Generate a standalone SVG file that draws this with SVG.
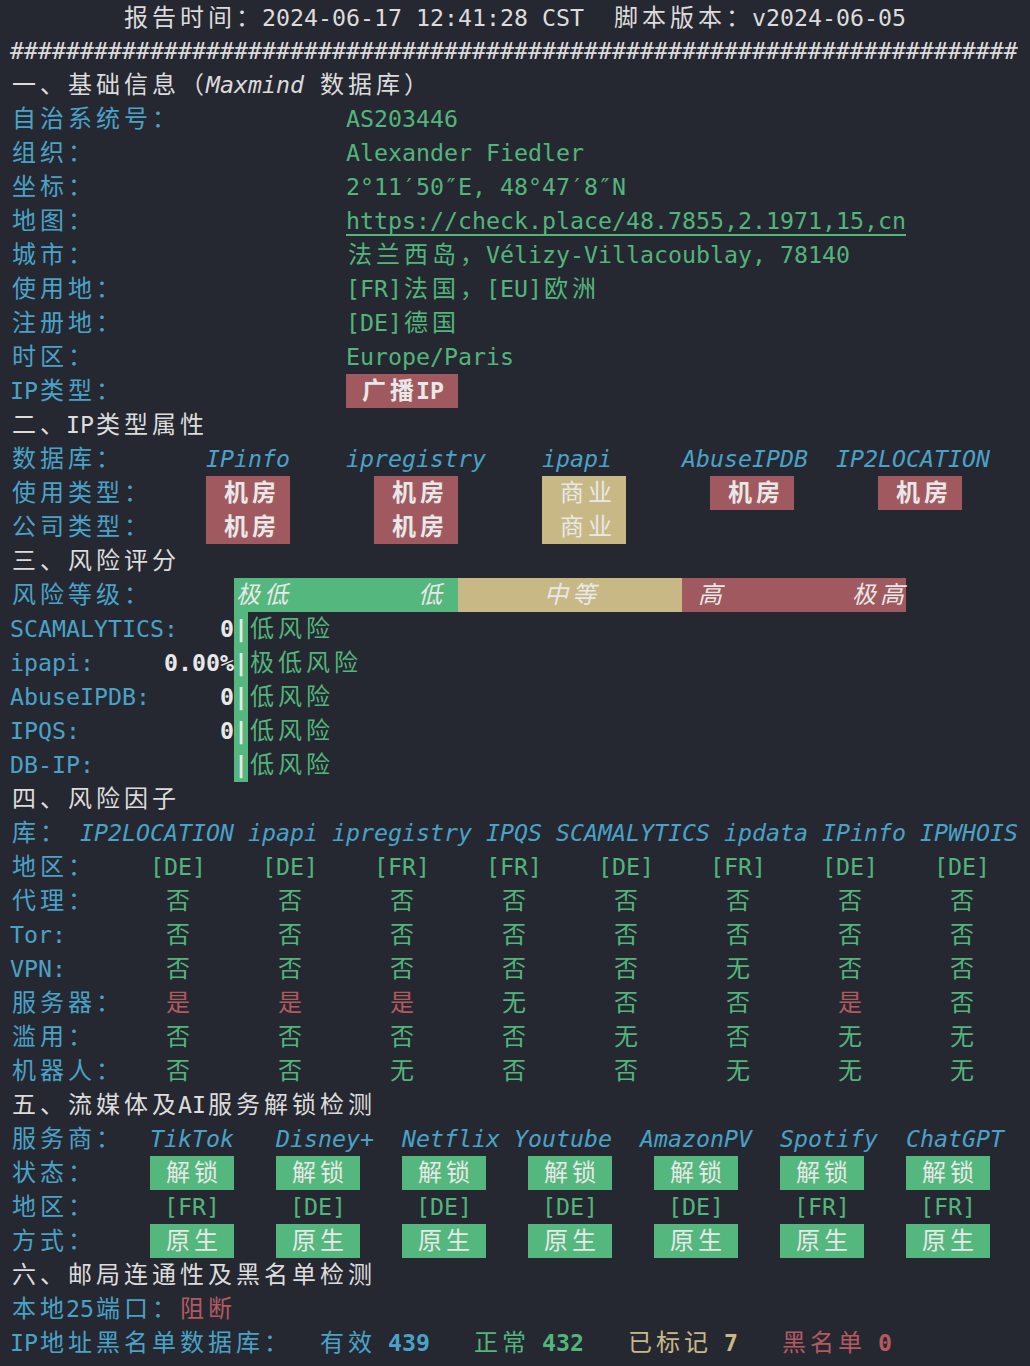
<svg xmlns="http://www.w3.org/2000/svg" width="1030" height="1366" viewBox="0 0 1030 1366">
<style>
.m{font-family:"DejaVu Sans Mono","Liberation Mono",monospace;font-size:23.25px}
.c{font-family:"Noto Sans CJK SC","Noto Sans CJK JP",sans-serif;font-size:24px;letter-spacing:4px}
.i{font-style:italic}
.b{font-weight:bold}
.w{fill:#dcdcdc}
.cy{fill:#4aa2c7}
.g{fill:#52b57b}
.r{fill:#b35a60}
.t{fill:#c8b987}
.bw{fill:#e8e8e8}
.rb{fill:#a0595f}
.tb{fill:#c7b886}
.gb{fill:#54b77d}
</style>
<rect x="0" y="0" width="1030" height="1366" fill="#262831"/>

<g id="header">
<text class="c w" x="124" y="26">报告时间：</text>
<text class="m w" x="262" y="26">2024-06-17 12:41:28 CST</text>
<text class="c w" x="614" y="26">脚本版本：</text>
<text class="m w" x="752" y="26">v2024-06-05</text>
<text class="m w" x="10" y="59">########################################################################</text>
</g>

<g id="sec1">
<text class="c w" x="12" y="93">一、基础信息（</text>
<text class="m w i" x="206" y="93">Maxmind</text>
<text class="c w" x="320" y="93">数据库）</text>
<text class="c cy" x="12" y="127">自治系统号：</text>
<text class="m g" x="346" y="127">AS203446</text>
<text class="c cy" x="12" y="161">组织：</text>
<text class="m g" x="346" y="161">Alexander Fiedler</text>
<text class="c cy" x="12" y="195">坐标：</text>
<text class="m g" x="346" y="195">2°11′50″E, 48°47′8″N</text>
<text class="c cy" x="12" y="229">地图：</text>
<text class="m g" x="346" y="229">https://check.place/48.7855,2.1971,15,cn</text>
<rect x="346" y="234" width="560" height="2" fill="#52b57b"/>
<text class="c cy" x="12" y="263">城市：</text>
<text class="c g" x="348" y="263">法兰西岛，</text>
<text class="m g" x="486" y="263">Vélizy-Villacoublay, 78140</text>
<text class="c cy" x="12" y="297">使用地：</text>
<text class="m g" x="346" y="297">[FR]</text>
<text class="c g" x="404" y="297">法国，</text>
<text class="m g" x="486" y="297">[EU]</text>
<text class="c g" x="544" y="297">欧洲</text>
<text class="c cy" x="12" y="331">注册地：</text>
<text class="m g" x="346" y="331">[DE]</text>
<text class="c g" x="404" y="331">德国</text>
<text class="c cy" x="12" y="365">时区：</text>
<text class="m g" x="346" y="365">Europe/Paris</text>
<text class="m cy" x="10" y="399">IP</text>
<text class="c cy" x="40" y="399">类型：</text>
<rect class="rb" x="346" y="374" width="112" height="34"/>
<text class="c bw b" x="362" y="399">广播</text>
<text class="m bw b" x="416" y="399">IP</text>
</g>

<g id="sec2">
<text class="c w" x="12" y="433">二、</text>
<text class="m w" x="66" y="433">IP</text>
<text class="c w" x="96" y="433">类型属性</text>
<text class="c cy" x="12" y="467">数据库：</text>
<text class="m cy i" x="206" y="467">IPinfo</text>
<text class="m cy i" x="346" y="467">ipregistry</text>
<text class="m cy i" x="542" y="467">ipapi</text>
<text class="m cy i" x="682" y="467">AbuseIPDB</text>
<text class="m cy i" x="836" y="467">IP2LOCATION</text>
<text class="c cy" x="12" y="501">使用类型：</text>
<rect class="rb" x="206" y="476" width="84" height="34"/>
<rect class="rb" x="374" y="476" width="84" height="34"/>
<rect class="tb" x="542" y="476" width="84" height="34"/>
<rect class="rb" x="710" y="476" width="84" height="34"/>
<rect class="rb" x="878" y="476" width="84" height="34"/>
<text class="c bw b" x="224" y="501">机房</text>
<text class="c bw b" x="392" y="501">机房</text>
<text class="c bw" x="560" y="501">商业</text>
<text class="c bw b" x="728" y="501">机房</text>
<text class="c bw b" x="896" y="501">机房</text>
<text class="c cy" x="12" y="535">公司类型：</text>
<rect class="rb" x="206" y="510" width="84" height="34"/>
<rect class="rb" x="374" y="510" width="84" height="34"/>
<rect class="tb" x="542" y="510" width="84" height="34"/>
<text class="c bw b" x="224" y="535">机房</text>
<text class="c bw b" x="392" y="535">机房</text>
<text class="c bw" x="560" y="535">商业</text>
</g>

<g id="sec3">
<text class="c w" x="12" y="569">三、风险评分</text>
<text class="c cy" x="12" y="603">风险等级：</text>
<rect class="gb" x="234" y="578" width="224" height="34"/>
<rect class="tb" x="458" y="578" width="224" height="34"/>
<rect class="rb" x="682" y="578" width="224" height="34"/>
<text class="c bw i" x="236" y="603">极低</text>
<text class="c bw i" x="418" y="603">低</text>
<text class="c bw i" x="544" y="603">中等</text>
<text class="c bw i" x="698" y="603">高</text>
<text class="c bw i" x="852" y="603">极高</text>
<rect class="gb" x="234" y="612" width="14" height="170"/>
<text class="m cy" x="10" y="637">SCAMALYTICS:</text>
<text class="m cy" x="10" y="671">ipapi:</text>
<text class="m cy" x="10" y="705">AbuseIPDB:</text>
<text class="m cy" x="10" y="739">IPQS:</text>
<text class="m cy" x="10" y="773">DB-IP:</text>
<text class="m bw b" x="220" y="637">0</text>
<text class="m bw b" x="164" y="671">0.00%</text>
<text class="m bw b" x="220" y="705">0</text>
<text class="m bw b" x="220" y="739">0</text>
<text class="m bw b" x="234" y="637">|</text>
<text class="m bw b" x="234" y="671">|</text>
<text class="m bw b" x="234" y="705">|</text>
<text class="m bw b" x="234" y="739">|</text>
<text class="m bw b" x="234" y="773">|</text>
<text class="c g" x="250" y="637">低风险</text>
<text class="c g" x="250" y="671">极低风险</text>
<text class="c g" x="250" y="705">低风险</text>
<text class="c g" x="250" y="739">低风险</text>
<text class="c g" x="250" y="773">低风险</text>
</g>

<g id="sec4">
<text class="c w" x="12" y="807">四、风险因子</text>
<text class="c cy" x="12" y="841">库：</text>
<text class="m cy i" x="80" y="841">IP2LOCATION</text>
<text class="m cy i" x="248" y="841">ipapi</text>
<text class="m cy i" x="332" y="841">ipregistry</text>
<text class="m cy i" x="486" y="841">IPQS</text>
<text class="m cy i" x="556" y="841">SCAMALYTICS</text>
<text class="m cy i" x="724" y="841">ipdata</text>
<text class="m cy i" x="822" y="841">IPinfo</text>
<text class="m cy i" x="920" y="841">IPWHOIS</text>
<text class="c cy" x="12" y="875">地区：</text>
<text class="m g" x="150" y="875">[DE]</text>
<text class="m g" x="262" y="875">[DE]</text>
<text class="m g" x="374" y="875">[FR]</text>
<text class="m g" x="486" y="875">[FR]</text>
<text class="m g" x="598" y="875">[DE]</text>
<text class="m g" x="710" y="875">[FR]</text>
<text class="m g" x="822" y="875">[DE]</text>
<text class="m g" x="934" y="875">[DE]</text>
<text class="c cy" x="12" y="909">代理：</text>
<text class="c g" y="909"><tspan x="166">否</tspan><tspan x="278">否</tspan><tspan x="390">否</tspan><tspan x="502">否</tspan><tspan x="614">否</tspan><tspan x="726">否</tspan><tspan x="838">否</tspan><tspan x="950">否</tspan></text>
<text class="m cy" x="10" y="943">Tor:</text>
<text class="c g" y="943"><tspan x="166">否</tspan><tspan x="278">否</tspan><tspan x="390">否</tspan><tspan x="502">否</tspan><tspan x="614">否</tspan><tspan x="726">否</tspan><tspan x="838">否</tspan><tspan x="950">否</tspan></text>
<text class="m cy" x="10" y="977">VPN:</text>
<text class="c g" y="977"><tspan x="166">否</tspan><tspan x="278">否</tspan><tspan x="390">否</tspan><tspan x="502">否</tspan><tspan x="614">否</tspan><tspan x="726">无</tspan><tspan x="838">否</tspan><tspan x="950">否</tspan></text>
<text class="c cy" x="12" y="1011">服务器：</text>
<text class="c r" y="1011"><tspan x="166">是</tspan><tspan x="278">是</tspan><tspan x="390">是</tspan><tspan x="838">是</tspan></text>
<text class="c g" y="1011"><tspan x="502">无</tspan><tspan x="614">否</tspan><tspan x="726">否</tspan><tspan x="950">否</tspan></text>
<text class="c cy" x="12" y="1045">滥用：</text>
<text class="c g" y="1045"><tspan x="166">否</tspan><tspan x="278">否</tspan><tspan x="390">否</tspan><tspan x="502">否</tspan><tspan x="614">无</tspan><tspan x="726">否</tspan><tspan x="838">无</tspan><tspan x="950">无</tspan></text>
<text class="c cy" x="12" y="1079">机器人：</text>
<text class="c g" y="1079"><tspan x="166">否</tspan><tspan x="278">否</tspan><tspan x="390">无</tspan><tspan x="502">否</tspan><tspan x="614">否</tspan><tspan x="726">无</tspan><tspan x="838">无</tspan><tspan x="950">无</tspan></text>
</g>

<g id="sec5">
<text class="c w" x="12" y="1113">五、流媒体及</text>
<text class="m w" x="178" y="1113">AI</text>
<text class="c w" x="208" y="1113">服务解锁检测</text>
<text class="c cy" x="12" y="1147">服务商：</text>
<text class="m cy i" x="150" y="1147">TikTok</text>
<text class="m cy i" x="276" y="1147">Disney+</text>
<text class="m cy i" x="402" y="1147">Netflix</text>
<text class="m cy i" x="514" y="1147">Youtube</text>
<text class="m cy i" x="640" y="1147">AmazonPV</text>
<text class="m cy i" x="780" y="1147">Spotify</text>
<text class="m cy i" x="906" y="1147">ChatGPT</text>
<text class="c cy" x="12" y="1181">状态：</text>
<rect class="gb" x="150" y="1156" width="84" height="34"/>
<rect class="gb" x="276" y="1156" width="84" height="34"/>
<rect class="gb" x="402" y="1156" width="84" height="34"/>
<rect class="gb" x="528" y="1156" width="84" height="34"/>
<rect class="gb" x="654" y="1156" width="84" height="34"/>
<rect class="gb" x="780" y="1156" width="84" height="34"/>
<rect class="gb" x="906" y="1156" width="84" height="34"/>
<text class="c bw" y="1181"><tspan x="166">解锁</tspan><tspan x="292">解锁</tspan><tspan x="418">解锁</tspan><tspan x="544">解锁</tspan><tspan x="670">解锁</tspan><tspan x="796">解锁</tspan><tspan x="922">解锁</tspan></text>
<text class="c cy" x="12" y="1215">地区：</text>
<text class="m g" y="1215"><tspan x="164">[FR]</tspan><tspan x="290">[DE]</tspan><tspan x="416">[DE]</tspan><tspan x="542">[DE]</tspan><tspan x="668">[DE]</tspan><tspan x="794">[FR]</tspan><tspan x="920">[FR]</tspan></text>
<text class="c cy" x="12" y="1249">方式：</text>
<rect class="gb" x="150" y="1224" width="84" height="34"/>
<rect class="gb" x="276" y="1224" width="84" height="34"/>
<rect class="gb" x="402" y="1224" width="84" height="34"/>
<rect class="gb" x="528" y="1224" width="84" height="34"/>
<rect class="gb" x="654" y="1224" width="84" height="34"/>
<rect class="gb" x="780" y="1224" width="84" height="34"/>
<rect class="gb" x="906" y="1224" width="84" height="34"/>
<text class="c bw" y="1249"><tspan x="166">原生</tspan><tspan x="292">原生</tspan><tspan x="418">原生</tspan><tspan x="544">原生</tspan><tspan x="670">原生</tspan><tspan x="796">原生</tspan><tspan x="922">原生</tspan></text>
</g>

<g id="sec6">
<text class="c w" x="12" y="1283">六、邮局连通性及黑名单检测</text>
<text class="c cy" x="12" y="1317">本地</text>
<text class="m cy" x="66" y="1317">25</text>
<text class="c cy" x="96" y="1317">端口：</text>
<text class="c r" x="180" y="1317">阻断</text>
<text class="m cy" x="10" y="1351">IP</text>
<text class="c cy" x="40" y="1351">地址黑名单数据库：</text>
<text class="c cy" x="320" y="1351">有效</text>
<text class="m cy b" x="388" y="1351">439</text>
<text class="c g" x="474" y="1351">正常</text>
<text class="m g b" x="542" y="1351">432</text>
<text class="c t" x="628" y="1351">已标记</text>
<text class="m t b" x="724" y="1351">7</text>
<text class="c r" x="782" y="1351">黑名单</text>
<text class="m r b" x="878" y="1351">0</text>
</g>
</svg>
